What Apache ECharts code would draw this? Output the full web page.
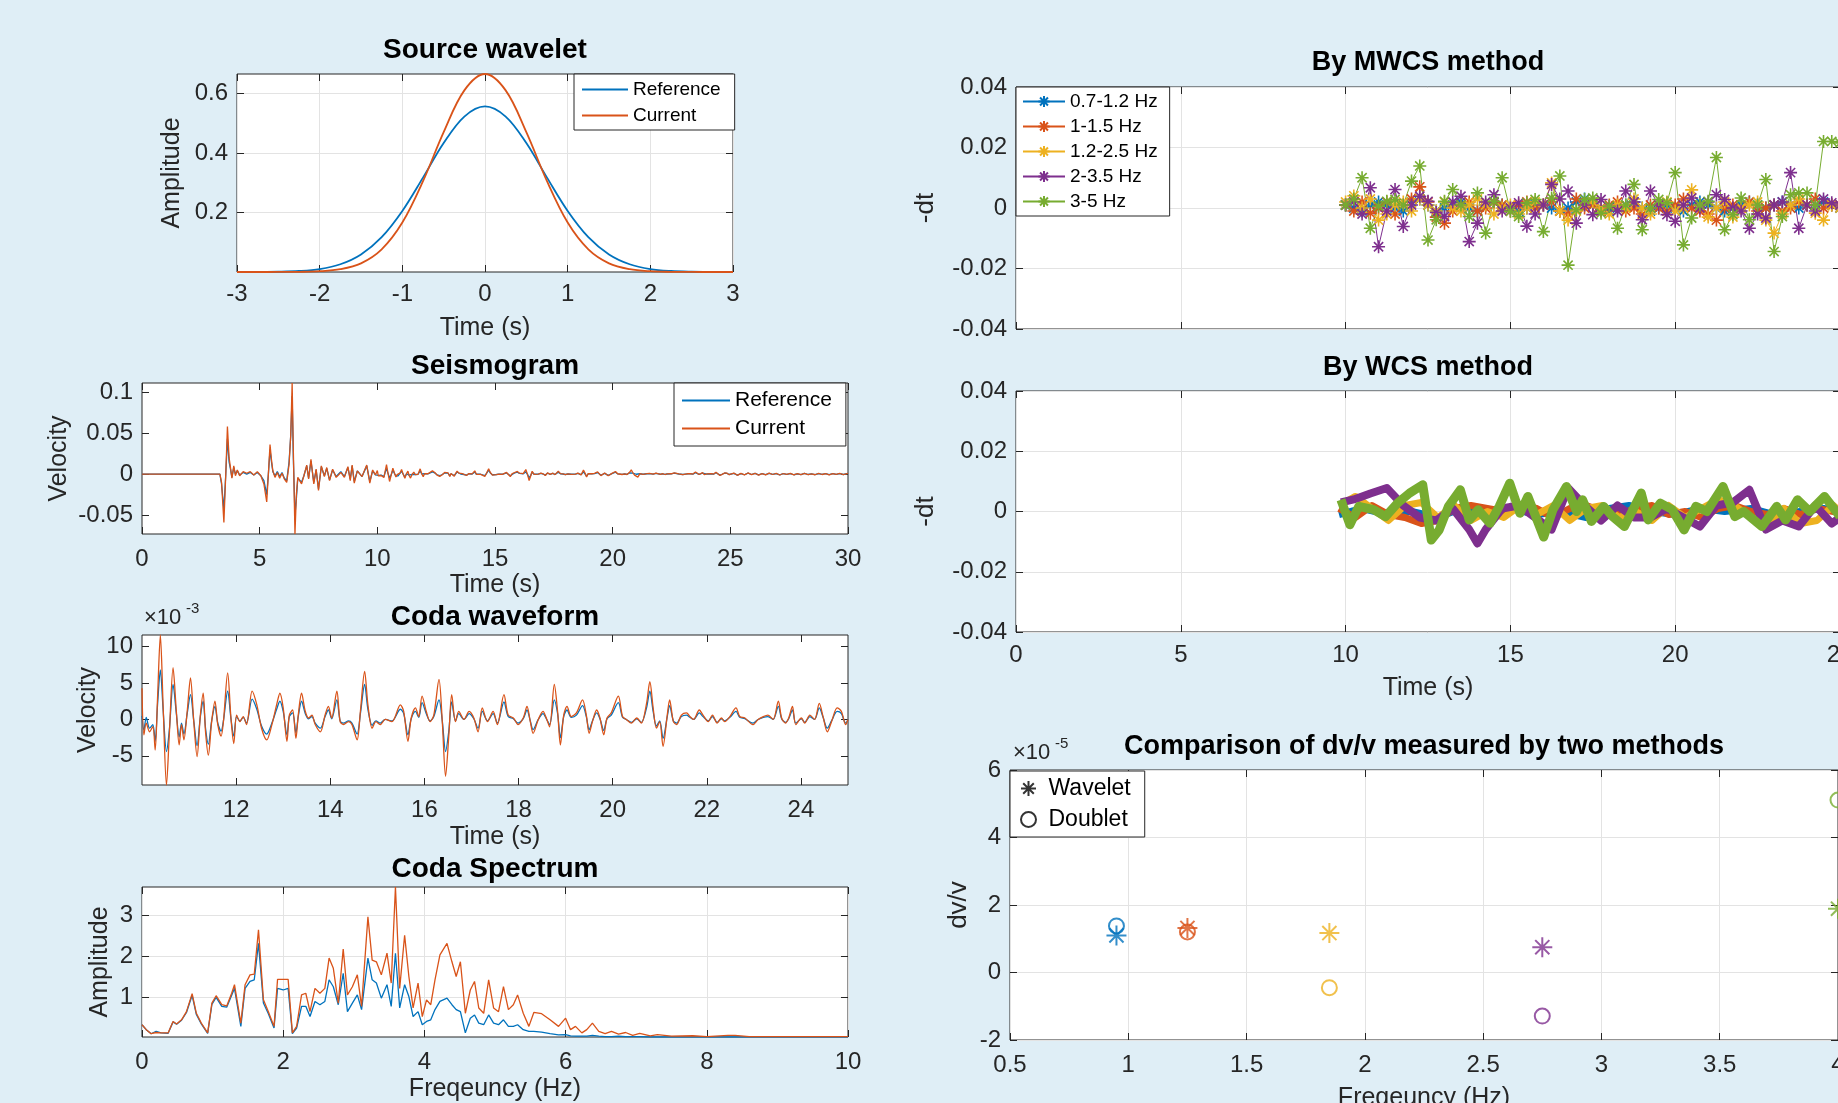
<!DOCTYPE html>
<html>
<head>
<meta charset="utf-8">
<title>Coda wave dv/v</title>
<script src="https://cdn.jsdelivr.net/npm/echarts@6/dist/echarts.min.js"></script>
<style>
	html,body{margin:0;padding:0;background:#dfeef6;overflow:hidden;}
	#main{width:1838px;height:1103px;}
</style>
</head>
<body>
<div id="main"></div>
<script>
// ---------- data ----------

// source wavelet
var srcT   = [-3,-2.75,-2.5,-2.25,-2,-1.75,-1.5,-1.25,-1,-0.75,-0.5,-0.25,0,0.25,0.5,0.75,1,1.25,1.5,1.75,2,2.25,2.5,2.75,3];
var srcRef = [0,0.0003,0.0011,0.0035,0.010,0.026,0.059,0.117,0.205,0.317,0.433,0.522,0.556,0.522,0.433,0.317,0.205,0.117,0.059,0.026,0.010,0.0035,0.0011,0.0003,0];
var srcCur = [0,0,0.0001,0.0006,0.0026,0.0095,0.029,0.076,0.166,0.305,0.470,0.610,0.665,0.610,0.470,0.305,0.166,0.076,0.029,0.0095,0.0026,0.0006,0.0001,0,0];

// seismogram before the coda window (s, velocity)
var seisHeadT   = [0,3.31,3.38,3.48,3.56,3.63,3.70,3.76,3.82,3.90,3.97,4.05,4.15,4.30,4.45,4.60,4.75,4.90,5.05,5.18,5.30,5.37,5.44,5.50,5.56,5.65,5.75,5.85,5.95,6.05,6.15,6.25,6.32,6.38,6.43,6.50,6.56,6.62,6.70,6.78,6.88,7.00,7.08,7.18,7.30,7.40,7.50,7.62,7.75,7.85,7.97,8.10,8.25,8.45,8.60,8.75,8.85,8.93,9.02,9.15,9.35,9.55,9.68,9.80,9.92];
var seisHeadRef = [0,0,-0.012,-0.043,0.0,0.043,0.015,0.006,-0.004,0.008,0.0,0.004,-0.001,0.002,0.0,0.002,-0.001,0.002,-0.002,-0.008,-0.025,0.0,0.030,0.015,0.003,-0.002,0.003,-0.003,0.002,-0.005,-0.008,0.015,0.047,0.095,0.020,-0.050,-0.030,-0.005,-0.003,-0.010,-0.002,0.010,-0.005,0.016,-0.010,0.005,-0.018,0.009,-0.002,0.007,-0.007,0.005,-0.003,0.003,-0.003,0.008,-0.006,0.010,-0.009,0.004,-0.003,0.010,-0.009,0.004,-0.001];
var seisHeadCur = [0,0,-0.010,-0.059,0.0,0.058,0.020,0.008,-0.005,0.010,-0.002,0.005,-0.002,0.003,0.001,0.003,-0.001,0.003,-0.002,-0.012,-0.034,0.0,0.036,0.018,0.004,-0.004,0.002,-0.005,0.001,-0.006,-0.010,0.012,0.047,0.111,0.030,-0.073,-0.025,-0.004,-0.004,-0.012,-0.002,0.011,-0.006,0.018,-0.012,0.006,-0.020,0.010,-0.003,0.008,-0.008,0.006,-0.004,0.002,-0.004,0.009,-0.008,0.011,-0.011,0.004,-0.003,0.011,-0.011,0.005,-0.001];
// seismogram after the coda window
var seisTailT   = [25.15,25.3,25.45,25.6,25.75,25.9,26.05,26.2,26.35,26.5,26.65,26.8,26.95,27.1,27.25,27.4,27.55,27.7,27.85,28.0,28.15,28.3,28.45,28.6,28.75,28.9,29.05,29.2,29.35,29.5,29.65,29.8,30.0];
var seisTailRef = [0.0009,-0.0012,0.0006,-0.0008,0.0011,-0.0005,0.0008,-0.0010,0.0005,-0.0007,0.0009,-0.0004,0.0006,-0.0009,0.0006,-0.0003,0.0007,-0.0008,0.0004,-0.0006,0.0008,-0.0005,0.0003,-0.0006,0.0007,-0.0004,0.0005,-0.0007,0.0006,-0.0003,0.0006,-0.0005,0.0008];
var seisTailCur = [0.0012,-0.0015,0.0008,-0.0010,0.0014,-0.0006,0.0010,-0.0012,0.0006,-0.0009,0.0011,-0.0005,0.0008,-0.0011,0.0007,-0.0004,0.0009,-0.0010,0.0005,-0.0007,0.0010,-0.0006,0.0004,-0.0008,0.0009,-0.0005,0.0006,-0.0009,0.0007,-0.0004,0.0008,-0.0006,0.0010];

// coda window 10-25 s, values in units of 1e-3
var codaT = [10.00,10.04,10.09,10.16,10.23,10.28,10.33,10.39,10.45,10.52,10.58,10.66,10.73,10.79,10.84,10.89,10.96,11.03,11.10,11.17,11.24,11.30,11.35,11.41,11.48,11.55,11.61,11.68,11.73,11.82,11.89,11.95,12.01,12.08,12.15,12.22,12.34,12.44,12.54,12.65,12.76,12.86,12.93,13.00,13.08,13.13,13.20,13.27,13.32,13.39,13.47,13.54,13.61,13.68,13.79,13.89,13.96,14.03,14.14,14.21,14.28,14.39,14.46,14.57,14.64,14.73,14.80,14.89,14.97,15.06,15.17,15.31,15.49,15.56,15.65,15.72,15.81,15.88,15.95,16.04,16.12,16.20,16.31,16.38,16.45,16.52,16.58,16.66,16.73,16.84,16.95,17.05,17.14,17.23,17.34,
	17.46,17.55,17.69,17.78,17.89,17.99,18.10,18.18,18.25,18.31,18.42,18.52,18.59,18.66,18.76,18.83,18.89,18.96,19.03,19.12,19.23,19.36,19.44,19.50,19.57,19.66,19.73,19.81,19.88,19.97,20.12,20.21,20.29,20.40,20.51,20.61,20.72,20.79,20.86,20.93,21.00,21.07,21.16,21.21,21.29,21.36,21.46,21.57,21.64,21.72,21.84,21.92,22.03,22.12,22.22,22.31,22.38,22.49,22.62,22.70,22.81,22.98,23.09,23.20,23.30,23.41,23.52,23.59,23.67,23.74,23.82,23.89,24.01,24.08,24.19,24.29,24.39,24.47,24.56,24.65,24.77,24.86,24.95,25.00];
var codaRef = [0.5,-1.5,0.3,-1.2,-0.7,-3.0,2.0,6.8,1.2,-4.4,-1.5,4.8,0.8,-2.4,-0.5,-2.0,0.8,3.4,-0.2,-3.6,0.4,2.5,-1.2,-3.4,-0.2,1.8,-0.5,-1.6,-0.2,3.9,0.1,-2.3,0.4,-0.2,0.3,-0.5,2.8,1.4,-0.9,-2.0,-0.5,1.4,2.5,1.1,-2.1,0.4,0.9,-1.8,0.4,2.5,0.8,0.1,0.4,-0.5,-1.2,0.4,1.3,0.1,2.7,-0.2,-0.5,-0.2,-0.5,-2.0,0.8,4.8,1.4,-0.8,-0.2,-0.5,0.0,-0.2,1.4,0.8,-2.1,0.1,1.1,0.3,2.3,0.8,-0.2,0.4,2.7,-0.2,-4.4,-1.5,2.4,-0.2,0.8,0.0,0.8,0.1,-1.2,1.1,-0.2,
	0.8,-0.5,2.4,0.4,0.1,-0.5,0.1,1.3,-0.2,-1.4,0.0,0.8,0.1,-0.7,2.7,0.8,-2.5,0.4,1.3,0.3,0.6,1.9,0.4,-1.4,-0.2,0.9,0.1,-1.5,0.1,0.6,2.3,0.3,0.0,-0.4,0.1,-0.4,1.6,3.9,1.1,-0.9,-0.2,-2.6,0.4,1.9,-0.2,-0.5,0.4,0.6,0.3,0.0,0.9,0.4,-0.2,0.4,-0.4,0.1,-0.2,0.3,1.1,0.3,0.1,-0.5,0.0,0.3,0.4,0.0,1.8,0.1,-0.4,0.1,1.3,-0.5,0.1,-0.4,0.4,0.0,1.6,0.3,-1.2,-0.2,1.1,0.8,-0.5,0.0];
var codaCur = [4.3,-2.1,-0.5,-1.7,-1.0,-4.2,2.9,11.6,1.6,-9.0,-2.1,7.1,1.1,-3.5,-0.7,-2.8,1.1,5.7,-0.3,-5.1,0.6,3.6,-1.7,-4.9,-0.3,2.5,-0.7,-2.3,-0.3,6.4,0.2,-3.3,0.6,-0.3,0.4,-0.7,3.9,2.0,-1.2,-2.8,-0.7,2.0,3.6,1.6,-3.0,0.6,1.3,-2.6,0.6,3.6,1.1,0.2,0.6,-0.7,-1.7,0.6,1.8,0.2,3.9,-0.3,-0.7,-0.3,-0.7,-2.8,1.1,6.6,2.0,-1.2,-0.3,-0.7,0.0,-0.3,2.0,1.1,-3.0,0.2,1.6,0.4,3.2,1.1,-0.3,0.6,5.5,-0.3,-7.8,-2.1,3.4,-0.3,1.1,0.0,1.1,0.2,-1.7,1.6,-0.3,
	1.1,-0.7,3.4,0.6,0.2,-0.7,0.2,1.8,-0.3,-1.9,0.0,1.1,0.2,-1.0,4.8,1.1,-3.5,0.6,1.8,0.4,0.9,2.7,0.6,-1.9,-0.3,1.3,0.2,-2.1,0.2,0.9,3.2,0.4,0.0,-0.5,0.2,-0.5,2.2,5.2,1.6,-1.2,-0.3,-3.7,0.6,2.7,-0.3,-0.7,0.6,0.9,0.4,0.0,1.3,0.6,-0.3,0.6,-0.5,0.2,-0.3,0.4,1.6,0.4,0.2,-0.7,0.0,0.4,0.6,0.0,2.5,0.2,-0.5,0.2,1.8,-0.7,0.2,-0.5,0.6,0.0,2.2,0.4,-1.7,-0.3,1.6,1.1,-0.7,0.0];

// coda spectrum
var specF = [0.00,0.06,0.13,0.20,0.27,0.37,0.44,0.49,0.56,0.63,0.71,0.77,0.84,0.93,0.99,1.05,1.13,1.20,1.27,1.31,1.40,1.46,1.53,1.59,1.65,1.72,1.79,1.87,1.92,2.00,2.07,2.13,2.19,2.26,2.32,2.38,2.45,2.52,2.59,2.65,2.71,2.78,2.85,2.91,2.98,3.05,3.11,3.20,3.26,3.32,3.39,3.47,3.53,3.59,3.65,3.72,3.78,3.84,3.91,3.97,4.03,4.09,4.15,4.22,4.32,4.39,4.45,4.51,4.58,4.65,4.71,4.77,4.84,4.91,4.98,5.05,5.12,5.19,5.26,5.32,5.40,5.48,5.55,5.66,5.78,5.90,6.00,6.07,6.14,6.23,6.30,6.38,6.47,6.56,6.65,6.75,6.85,6.95,7.05,7.20,7.30,7.50,7.80,8.00,8.30,8.40,8.60,9.00,9.50,10.00];
var specRef = [0.33,0.21,0.11,0.17,0.13,0.12,0.40,0.34,0.44,0.63,1.05,0.58,0.35,0.12,0.83,1.00,0.78,0.76,1.05,1.22,0.29,1.22,1.39,1.43,2.32,0.86,0.60,0.25,1.22,1.18,1.22,0.11,0.25,0.78,0.78,0.53,0.90,0.82,0.90,1.43,1.26,0.82,1.59,0.65,0.86,1.06,0.70,1.96,1.43,1.35,0.98,1.31,0.78,2.08,0.74,1.31,1.02,0.53,0.65,0.33,0.41,0.45,0.70,0.90,0.98,0.82,0.70,0.65,0.13,0.49,0.57,0.37,0.33,0.57,0.37,0.33,0.45,0.29,0.29,0.33,0.21,0.17,0.17,0.15,0.11,0.08,0.09,0.06,0.05,0.05,0.05,0.07,0.05,0.04,0.04,0.05,0.04,0.04,0.04,0.03,0.03,0.03,0.03,0.03,0.03,0.03,0.03,0.03,0.03,0.03];
var specCur = [0.33,0.21,0.11,0.14,0.13,0.13,0.41,0.35,0.45,0.65,1.09,0.61,0.37,0.13,0.86,1.04,0.82,0.79,1.10,1.31,0.37,1.31,1.55,1.57,2.65,0.94,0.65,0.29,1.44,1.44,1.44,0.13,0.29,1.06,1.10,0.65,1.22,1.10,1.22,1.96,1.71,0.86,2.18,1.06,1.26,1.55,0.78,2.97,1.91,1.87,1.55,2.08,1.35,3.70,1.22,2.52,1.51,0.74,1.35,0.53,0.94,0.82,1.43,2.04,2.32,1.87,1.51,1.87,0.61,1.18,1.39,0.74,0.61,1.43,0.74,0.65,1.26,0.70,0.82,1.06,0.61,0.29,0.63,0.60,0.45,0.29,0.49,0.21,0.29,0.13,0.21,0.37,0.17,0.11,0.17,0.10,0.14,0.07,0.12,0.06,0.09,0.05,0.06,0.04,0.07,0.07,0.04,0.04,0.04,0.04];

// MWCS -dt per band
var bandNames = ['0.7-1.2 Hz','1-1.5 Hz','1.2-2.5 Hz','2-3.5 Hz','3-5 Hz'];
var mwcsT = [10,10.25,10.5,10.75,11,11.25,11.5,11.75,12,12.25,12.5,12.75,13,13.25,13.5,13.75,14,14.25,14.5,14.75,15,15.25,15.5,15.75,16,16.25,16.5,16.75,17,17.25,17.5,17.75,18,18.25,18.5,18.75,19,19.25,19.5,19.75,20,20.25,20.5,20.75,21,21.25,21.5,21.75,22,22.25,22.5,22.75,23,23.25,23.5,23.75,24,24.25,24.5,24.75,25];
var mwcsBlue   = [0.001,0.000,-0.001,0.001,0.002,0.001,0.000,-0.001,0.002,0.003,0.001,-0.001,0.000,0.001,0.002,0.000,-0.001,0.001,0.002,0.001,0.000,-0.001,0.000,0.001,0.001,0.000,-0.001,0.000,0.002,0.003,0.001,0.000,-0.001,0.000,0.001,0.002,0.000,-0.001,0.000,0.001,0.000,-0.001,0.001,0.002,0.001,0.000,-0.001,0.000,0.001,0.002,0.001,0.000,0.001,0.002,0.001,0.000,0.001,0.001,0.002,0.001,0.000];
var mwcsOrange = [0.001,-0.001,0.002,-0.0017,0.000,0.002,-0.002,0.001,0.003,0.007,0.002,-0.003,-0.005,-0.001,0.001,0.002,-0.001,0.000,0.002,0.001,-0.001,0.001,0.002,0.000,0.001,0.002,-0.001,-0.002,0.003,0.000,0.001,-0.001,0.001,0.002,-0.001,0.000,-0.002,0.001,0.000,-0.001,0.001,0.003,0.000,-0.001,-0.002,-0.004,0.000,0.001,0.000,0.002,-0.001,0.000,0.001,-0.001,0.000,0.002,0.001,0.003,0.000,0.001,0.001];
var mwcsYellow = [0.002,0.004,0.000,0.003,-0.004,-0.002,0.001,0.002,-0.001,0.003,0.001,-0.001,0.002,0.000,-0.001,0.001,0.003,0.001,-0.002,0.000,0.001,-0.002,0.000,0.002,0.001,0.0083,-0.001,-0.004,-0.001,0.001,0.002,0.000,-0.002,0.001,0.000,0.003,0.000,-0.002,0.001,0.002,-0.001,0.000,0.006,0.001,-0.003,0.000,0.002,-0.003,0.000,0.001,0.002,-0.004,-0.0083,-0.002,0.001,0.003,0.001,-0.0017,-0.004,0.001,0.000];
var mwcsPurple = [0.001,0.002,-0.002,0.0067,-0.0128,-0.001,0.0061,-0.0061,0.001,0.0039,0.0022,-0.0015,-0.0028,0.002,0.0039,-0.0111,-0.005,0.002,0.0044,-0.001,0.000,0.0017,-0.006,-0.002,0.001,0.0078,0.003,0.0056,-0.005,0.001,-0.0022,0.0028,0.0005,-0.001,0.0056,0.002,-0.0039,0.0056,0.001,-0.0022,-0.0044,0.001,0.0033,0.000,0.002,0.0044,0.0028,0.000,-0.001,-0.0067,-0.002,-0.0033,0.001,0.002,0.0117,-0.0067,0.001,-0.001,0.003,0.0017,0.001];
var mwcsGreen  = [0.001,0.003,0.010,-0.0067,0.0006,0.0022,0.0028,0.001,0.0089,0.0139,-0.0106,-0.0039,0.0022,0.0061,0.001,-0.0028,0.005,-0.0083,0.0022,0.010,-0.0011,-0.0028,0.0017,0.0028,-0.0078,0.0033,0.0106,-0.0189,-0.0006,0.0028,0.0033,-0.0017,0.0006,-0.0067,0.001,0.0078,-0.0072,0.000,0.0028,0.0017,0.0117,-0.0122,-0.0033,0.001,0.0022,0.0167,-0.0072,-0.0022,0.0033,-0.0039,0.001,0.0094,-0.0144,-0.0028,0.0044,0.005,0.005,0.001,0.022,0.022,0.0215];

// WCS -dt per band, [time, -dt]
var wcsBlue   = [[9.8,-0.001],[10.5,0.001],[11.3,-0.001],[12.0,0.000],[12.8,-0.002],[13.5,0.001],[14.3,-0.001],[15.0,0.001],[15.8,-0.001],[16.5,0.000],[17.3,-0.002],[18.0,0.001],[18.6,0.002],[19.3,0.000],[20.0,-0.001],[20.8,0.001],[21.5,0.000],[22.3,0.001],[23.0,-0.001],[23.8,0.000],[24.5,0.001],[25,0.000]];
var wcsOrange = [[9.8,0.001],[10.3,-0.002],[10.8,0.002],[11.3,-0.001],[11.8,-0.002],[12.3,-0.004],[12.8,-0.003],[13.3,0.001],[13.8,0.002],[14.3,0.001],[14.8,0.000],[15.3,0.002],[15.8,0.001],[16.3,-0.002],[16.8,0.001],[17.3,0.002],[17.8,0.000],[18.3,-0.001],[18.8,0.001],[19.3,0.002],[19.8,-0.001],[20.3,0.000],[20.8,-0.002],[21.3,0.001],[21.8,0.002],[22.3,0.000],[22.8,-0.001],[23.3,0.001],[23.8,-0.001],[24.3,0.001],[24.8,0.000],[25,0.001]];
var wcsYellow = [[9.8,0.002],[10.3,0.005],[10.8,0.001],[11.3,-0.003],[11.8,0.002],[12.3,0.003],[12.8,-0.002],[13.3,0.002],[13.8,-0.003],[14.3,0.000],[14.8,-0.002],[15.3,0.002],[15.8,-0.001],[16.3,0.002],[16.8,-0.003],[17.3,0.001],[17.8,0.002],[18.3,-0.002],[18.8,0.000],[19.3,-0.003],[19.8,0.002],[20.3,-0.002],[20.8,0.001],[21.3,0.004],[21.8,0.002],[22.3,-0.002],[22.8,-0.004],[23.3,0.001],[23.8,-0.004],[24.3,-0.003],[24.8,0.002],[25,0.000]];
var wcsPurple = [[9.86,0.003],[10.25,0.004],[10.75,0.006],[11.25,0.0078],[11.75,0.002],[12.25,-0.002],[12.75,-0.003],[13.25,0.001],[13.75,-0.006],[14.0,-0.0106],[14.25,-0.006],[14.75,0.001],[15.25,0.002],[15.75,-0.002],[16.25,-0.006],[16.75,0.0078],[17.25,0.002],[17.75,-0.003],[18.25,0.002],[18.75,-0.002],[19.25,-0.002],[19.75,0.001],[20.25,-0.002],[20.75,-0.005],[21.25,0.002],[21.75,0.003],[22.25,0.0072],[22.75,-0.006],[23.25,-0.003],[23.75,-0.005],[24.25,0.002],[24.75,-0.004],[25.0,-0.002]];
var wcsGreen  = [[9.86,0.0039],[10.13,-0.0044],[10.4,0.0017],[10.85,0.0006],[11.21,-0.0017],[11.58,0.0028],[11.94,0.0061],[12.34,0.0089],[12.6,-0.0095],[12.84,-0.0061],[13.12,0.0017],[13.48,0.0072],[13.75,-0.0028],[14.02,0.0006],[14.38,-0.0039],[14.66,0.0017],[14.98,0.0094],[15.29,-0.0006],[15.53,0.005],[16.01,-0.0085],[16.29,0.0006],[16.7,0.0083],[17.01,0.0],[17.19,0.0039],[17.46,-0.0033],[17.83,0.0017],[18.1,-0.0017],[18.46,-0.005],[18.97,0.0061],[19.18,-0.0028],[19.55,0.0028],[19.91,0.0006],[20.27,-0.0061],[20.63,0.0017],[20.96,0.0],[21.45,0.0083],[21.81,-0.0017],[22.08,0.0],[22.63,-0.005],[23.08,0.0017],[23.35,-0.0028],[23.71,0.0039],[24.08,0.0],[24.53,0.005],[25.0,-0.0017]];

// dv/v comparison, values in units of 1e-5
var cmpFreq    = [0.95,1.25,1.85,2.75,4.0];
var cmpWavelet = [1.10,1.32,1.17,0.75,1.89];
var cmpDoublet = [1.38,1.20,-0.45,-1.29,5.11];

// tick labels
var srcXTicks  = [-3,-2,-1,0,1,2,3];
var srcYTicks  = [0.2,0.4,0.6];
var seisXTicks = [0,5,10,15,20,25,30];
var seisYTicks = [-0.05,0,0.05,0.1];
var codaXTicks = [12,14,16,18,20,22,24];
var codaYTicks = [-5,0,5,10];
var specXTicks = [0,2,4,6,8,10];
var specYTicks = [1,2,3];
var dtXTicks   = [0,5,10,15,20,25];
var dtYTicks   = [-0.04,-0.02,0,0.02,0.04];
var cmpXTicks  = [0.5,1,1.5,2,2.5,3,3.5,4];
var cmpYTicks  = [-2,0,2,4,6];

// ---------- styling ----------
var FONT = '"Liberation Sans", Arial, Helvetica, sans-serif';
var INK = '#262626';
var COLORS = ['#0072bd','#d95319','#edb120','#7e2f8e','#77ac30'];
var STAR = 'path://M10,0L10,20M0,10L20,10M2.93,2.93L17.07,17.07M2.93,17.07L17.07,2.93';

function fmtNum(v){ return String(+(+v).toFixed(5)); }
function pairs(xs, ys, k){ return xs.map(function(x,i){ return [x, k ? ys[i]*k : ys[i]]; }); }

// main axis + a mirrored one so the ticks show on all four sides like matlab
function axes(dir, gi, min, max, ticks, o){
	o = o || {};
	function tick(){ return {show:true, inside:true, length:7, customValues:ticks, lineStyle:{color:INK, width:1}}; }
	var main = {
		type:'value', gridIndex:gi, min:min, max:max,
		position: dir === 'x' ? 'bottom' : 'left',
		axisLine:{show:false, onZero:false}, axisTick:tick(),
		axisLabel:{show:!o.hideLabels, customValues:ticks, formatter:fmtNum, color:INK,
			fontSize:o.fs || 24, fontFamily:FONT, margin:o.margin == null ? 9 : o.margin},
		splitLine:{show:!!o.grid, lineStyle:{color:'#e3e3e3', width:1}},
		name:o.name || '', nameLocation:'middle', nameGap:o.gap || 30,
		nameTextStyle:{color:INK, fontSize:o.nfs || 25, fontFamily:FONT}
	};
	var mirror = {
		type:'value', gridIndex:gi, min:min, max:max,
		position: dir === 'x' ? 'top' : 'right',
		axisLine:{show:false, onZero:false}, axisTick:tick(), axisLabel:{show:false}, splitLine:{show:false}
	};
	return [main, mirror];
}

function line(name, gi, data, color, width, extra){
	return Object.assign({
		type:'line', name:name, xAxisIndex:2*gi, yAxisIndex:2*gi, data:data,
		symbol:'none', lineStyle:{color:color, width:width}, itemStyle:{color:color}, silent:true
	}, extra || {});
}

function legendBox(o){
	return Object.assign({
		orient:'vertical', backgroundColor:'#fff', borderColor:INK, borderWidth:1, borderRadius:0,
		itemGap:6, itemWidth:44, itemHeight:14, padding:[5,12,5,8], selectedMode:false,
		textStyle:{fontFamily:FONT, fontSize:19, color:'#000'}
	}, o);
}

function titleAt(text, x, y, size){
	return {text:text, left:x, top:y, textAlign:'center', padding:0,
		textStyle:{fontFamily:FONT, fontSize:size || 28, fontWeight:'bold', color:'#000'}};
}

var gridBox = {show:true, backgroundColor:'#fff', borderColor:INK, borderWidth:1, containLabel:false, outerBoundsMode:'none'};
var grids = [
	{left:237,  top:74,  width:496, height:198},
	{left:142,  top:383, width:706, height:151},
	{left:142,  top:635, width:706, height:150},
	{left:142,  top:887, width:706, height:150},
	{left:1016, top:87,  width:824, height:242},
	{left:1016, top:391, width:824, height:241},
	{left:1010, top:770, width:828, height:270}
].map(function(g){ return Object.assign({}, gridBox, g); });

var xAxes = [].concat(
	axes('x',0,-3,3,srcXTicks,{grid:true, name:'Time (s)', gap:44, margin:10}),
	axes('x',1,0,30,seisXTicks,{name:'Time (s)', gap:39, margin:13}),
	axes('x',2,10,25,codaXTicks,{name:'Time (s)', gap:40, margin:13}),
	axes('x',3,0,10,specXTicks,{grid:true, name:'Freqeuncy (Hz)', gap:40, margin:13}),
	axes('x',4,0,25,dtXTicks,{grid:true, hideLabels:true}),
	axes('x',5,0,25,dtXTicks,{grid:true, name:'Time (s)', gap:44, margin:11}),
	axes('x',6,0.5,4,cmpXTicks,{grid:true, name:'Freqeuncy (Hz)', gap:46, margin:13})
);
var yAxes = [].concat(
	axes('y',0,0,0.665,srcYTicks,{grid:true, name:'Amplitude', gap:52}),
	axes('y',1,-0.073,0.111,seisYTicks,{name:'Velocity', gap:70}),
	axes('y',2,-9,11.6,codaYTicks,{name:'Velocity', gap:41}),
	axes('y',3,0.03,3.7,specYTicks,{grid:true, name:'Amplitude', gap:29}),
	axes('y',4,-0.04,0.04,dtYTicks,{grid:true, name:'-dt', gap:77, nfs:26}),
	axes('y',5,-0.04,0.04,dtYTicks,{grid:true, name:'-dt', gap:77, nfs:26}),
	axes('y',6,-2,6,cmpYTicks,{grid:true, name:'dv/v', gap:38, nfs:26})
);

// seismogram = head + coda window (1e-3 units -> velocity) + tail
var seisT   = seisHeadT.concat(codaT, seisTailT);
var seisRef = seisHeadRef.concat(codaRef.map(function(v){ return v/1000; }), seisTailRef);
var seisCur = seisHeadCur.concat(codaCur.map(function(v){ return v/1000; }), seisTailCur);

var mwcsSets = [mwcsBlue, mwcsOrange, mwcsYellow, mwcsPurple, mwcsGreen];
var wcsSets  = [wcsBlue, wcsOrange, wcsYellow, wcsPurple, wcsGreen];
var wcsWidth = [7,7,7,8,9];

var series = [
	line('Reference',0,pairs(srcT,srcRef),COLORS[0],1.8,{smooth:0.35}),
	line('Current',0,pairs(srcT,srcCur),COLORS[1],1.8,{smooth:0.35}),
	line('Reference',1,pairs(seisT,seisRef),COLORS[0],1.3),
	line('Current',1,pairs(seisT,seisCur),COLORS[1],1.3),
	line('Reference',2,pairs(codaT,codaRef),COLORS[0],1.3,{smooth:0.3}),
	line('Current',2,pairs(codaT,codaCur),COLORS[1],1.3,{smooth:0.3}),
	line('Reference',3,pairs(specF,specRef),COLORS[0],1.3),
	line('Current',3,pairs(specF,specCur),COLORS[1],1.3)
];
mwcsSets.forEach(function(arr,i){
	series.push(line(bandNames[i],4,pairs(mwcsT,arr),COLORS[i],1,{
		symbol:STAR, symbolSize:13, showSymbol:true,
		itemStyle:{color:COLORS[i], borderColor:COLORS[i], borderWidth:1.6}
	}));
});
wcsSets.forEach(function(arr,i){
	series.push(line('WCS '+bandNames[i],5,arr,COLORS[i],wcsWidth[i],{lineStyle:{color:COLORS[i], width:wcsWidth[i], join:'round'}}));
});
series.push({
	type:'scatter', name:'Wavelet', xAxisIndex:12, yAxisIndex:12, symbol:STAR, symbolSize:20, silent:true,
	itemStyle:{color:'#000', borderColor:'#000', borderWidth:2},
	data:cmpFreq.map(function(f,i){ return {value:[f,cmpWavelet[i]], itemStyle:{color:COLORS[i], borderColor:COLORS[i]}}; })
});
series.push({
	type:'scatter', name:'Doublet', xAxisIndex:12, yAxisIndex:12, symbol:'circle', symbolSize:15, silent:true,
	itemStyle:{color:'rgba(0,0,0,0)', borderColor:'#000', borderWidth:2},
	data:cmpFreq.map(function(f,i){ return {value:[f,cmpDoublet[i]], itemStyle:{borderColor:COLORS[i]}}; })
});

var option = {
	backgroundColor:'#dfeef6',
	animation:false,
	textStyle:{fontFamily:FONT},
	title:[
		titleAt('Source wavelet',485,36),
		titleAt('Seismogram',495,352),
		titleAt('Coda waveform',495,603),
		titleAt('Coda Spectrum',495,855),
		titleAt('By MWCS method',1428,49,27),
		titleAt('By WCS method',1428,354,27),
		titleAt('Comparison of dv/v measured by two methods',1424,733,27)
	],
	legend:[
		legendBox({data:['Reference','Current'], icon:'rect', itemHeight:2, itemGap:7, left:574, top:74, itemWidth:46, padding:[6,14,5,8]}),
		legendBox({data:['Reference','Current'], icon:'rect', itemHeight:2, left:674, top:383, itemWidth:48, itemGap:7, padding:[7,14,7,8], textStyle:{fontFamily:FONT, fontSize:21, color:'#000'}}),
		legendBox({data:bandNames, left:1016, top:87, itemWidth:42, itemGap:6, padding:[5,12,5,6]}),
		legendBox({data:[{name:'Wavelet', icon:STAR},{name:'Doublet', icon:'circle'}], left:1010, top:771, itemWidth:30, itemHeight:15, itemGap:8, padding:[6,14,6,10], textStyle:{fontFamily:FONT, fontSize:23, color:'#000'}})
	],
	graphic:[
		{type:'text', left:144, top:607, style:{text:'\u00d710', fontSize:22, fontFamily:FONT, fill:INK}},
		{type:'text', left:186, top:601, style:{text:'-3', fontSize:15, fontFamily:FONT, fill:INK}},
		{type:'text', left:1013, top:742, style:{text:'\u00d710', fontSize:22, fontFamily:FONT, fill:INK}},
		{type:'text', left:1055, top:736, style:{text:'-5', fontSize:15, fontFamily:FONT, fill:INK}}
	],
	grid:grids,
	xAxis:xAxes,
	yAxis:yAxes,
	series:series
};

var chart = echarts.init(document.getElementById('main'));
chart.setOption(option);
</script>
</body>
</html>
